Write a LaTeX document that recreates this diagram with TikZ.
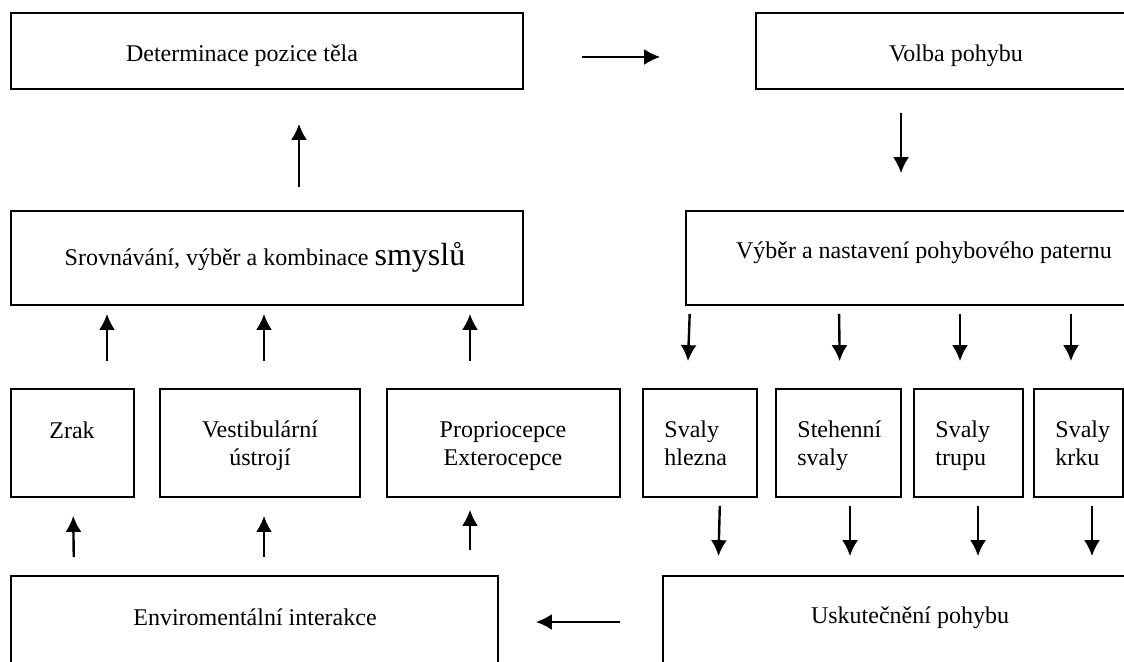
\documentclass[tikz,border=0pt]{standalone}
\usepackage{fontspec}
\setmainfont{Liberation Serif}
\usetikzlibrary{arrows.meta}
\tikzset{>={Latex[length=8pt,width=8pt]}}

\begin{document}
\begin{tikzpicture}[x=0.5pt, y=-0.5pt,
		box/.style={draw, line width=0.85pt, rectangle, inner sep=0pt, minimum height=54pt},
		txt/.style={font=\fontsize{12}{14}\selectfont, inner sep=0pt, anchor=base, align=center},
		lefttxt/.style={txt, anchor=base west, align=left},
		arr/.style={->, line width=1.2pt}]
		% the page
		\clip (0,0) rectangle (1124,662);

		% top row
		\node[box, minimum width=256pt, minimum height=38pt] (det) at (267,51) {};
		\node[box, minimum width=200pt, minimum height=38pt] (volba) at (956,51) {};
		\node[txt] (det-t) at (242,62) {Determinace pozice těla};
		\node[txt] (volba-t) at (956,62) {Volba pohybu};

		% second row
		\node[box, minimum width=256pt, minimum height=47pt] (srov) at (267,258) {};
		\node[box, minimum width=238pt, minimum height=47pt] (vyber) at (924,258) {};
		\node[txt] (srov-t) at (265,266)
			{Srovnávání, výběr a kombinace {\fontsize{16}{19}\selectfont smyslů}};
		\node[txt] (vyber-t) at (924,259) {Výběr a nastavení pohybového paternu};

		% senses (base of a two line text is its last line)
		\node[box, minimum width=61.5pt] (zrak) at (72.5,443) {};
		\node[box, minimum width=100pt] (vest) at (260,443) {};
		\node[box, minimum width=116.5pt] (prop) at (503.5,443) {};
		\node[txt] (zrak-t) at (72,438) {Zrak};
		\node[txt] (vest-t) at (260,466) {Vestibulární\\ústrojí};
		\node[txt] (prop-t) at (503,466) {Propriocepce\\Exterocepce};

		% muscles
		\node[box, minimum width=57pt] (hlezna) at (700,443) {};
		\node[box, minimum width=62.5pt] (steh) at (838.5,443) {};
		\node[box, minimum width=54.5pt] (trupu) at (968.5,443) {};
		\node[box, minimum width=44.5pt] (krku) at (1078.5,443) {};
		\node[lefttxt] (hlezna-t) at (664,466) {Svaly\\hlezna};
		\node[lefttxt] (steh-t) at (797,466) {Stehenní\\svaly};
		\node[lefttxt] (trupu-t) at (935,466) {Svaly\\trupu};
		\node[lefttxt] (krku-t) at (1055,466) {Svaly\\krku};

		% bottom row
		\node[box, minimum width=243.5pt, minimum height=57pt] (env) at (254.5,633) {};
		\node[box, minimum width=247pt, minimum height=57pt] (usk) at (910,633) {};
		\node[txt] (env-t) at (255,625) {Enviromentální interakce};
		\node[txt] (usk-t) at (910,623) {Uskutečnění pohybu};

		% the loop round the top
		\draw[arr, shorten <=29pt, shorten >=47.5pt] (det.east |- 0,57) -- (volba.west |- 0,57);
		\draw[arr, shorten <=11.5pt, shorten >=17pt] (srov.north -| 299,0) -- (det.south -| 299,0);
		\draw[arr, shorten <=11.5pt, shorten >=18.5pt] (volba.south -| 901,0) -- (vyber.north -| 901,0);
		\draw[arr, shorten <=21pt, shorten >=18.5pt] (usk.west |- 0,622) -- (env.east |- 0,622);

		% senses up
		\foreach \n/\xa/\xb in {zrak/74/73, vest/264/264} {
			\draw[arr, shorten <=9pt, shorten >=9pt] (env.north -| \xa,0) -- (\n.south -| \xb,0);
		}
		\draw[arr, shorten <=12.5pt, shorten >=6pt] (env.north -| 470,0) -- (prop.south -| 470,0);
		\foreach \n/\x in {zrak/107, vest/264, prop/470} {
			\draw[arr, shorten <=13.5pt, shorten >=4pt] (\n.north -| \x,0) -- (srov.south -| \x,0);
		}

		% muscles down
		\foreach \n/\xa/\xb in {hlezna/690/687, steh/839/840, trupu/960/960, krku/1071/1071} {
			\draw[arr, shorten <=4pt, shorten >=13.5pt] (vyber.south -| \xa,0) -- (\n.north -| \xb,0);
		}
		\foreach \n/\xa/\xb in {hlezna/720/718, steh/850/850, trupu/978/978, krku/1092/1092} {
			\draw[arr, shorten <=4pt, shorten >=9.5pt] (\n.south -| \xa,0) -- (usk.north -| \xb,0);
		}
\end{tikzpicture}
\end{document}
